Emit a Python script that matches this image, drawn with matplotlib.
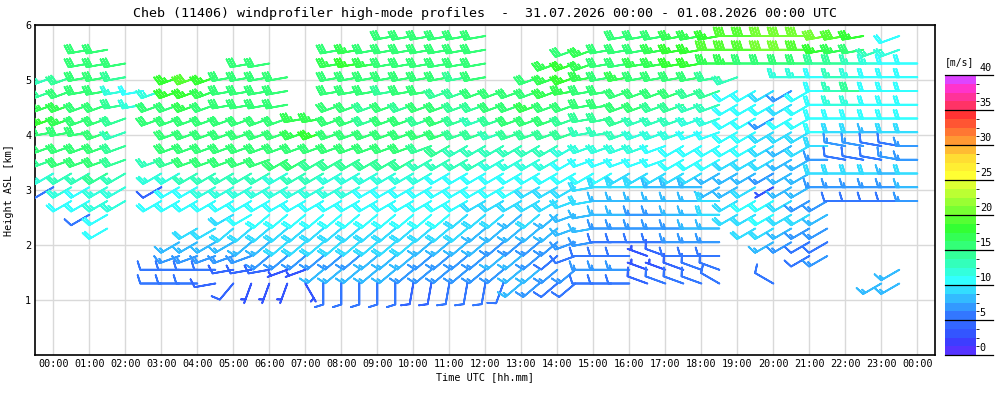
import numpy as np
import matplotlib
matplotlib.use("Agg")
import matplotlib.pyplot as plt
from matplotlib.colors import ListedColormap, BoundaryNorm
from matplotlib.cm import ScalarMappable

_ = np.nan

# profile times (hours UTC, every 30 min) and range gate heights (km)
times = np.arange(0, 24.5, 0.5)
heights = [5.8, 5.55, 5.3, 5.05, 4.8, 4.55, 4.3, 4.05, 3.8, 3.55,
           3.3, 3.05, 2.8, 2.55, 2.3, 2.05, 1.8, 1.55, 1.3]

# wind speed [m/s], one row per height, one column per time
speed = [
    [_,_,_,_,_,_,_,_,_,_, _,_,_,_,_,_,_,_,_,15, 16,16,15,15,15,_,_,_,_,_, _,_,15,16,16,17,17,18,19,19, 20,20,21,20,19,18,_,11,_],
    [_,_,16,16,_,_,_,_,_,_, _,_,_,_,_,_,16,17,16,16, 15,16,16,15,15,_,_,_,_,16, 17,16,16,16,17,18,18,19,19,19, 20,20,19,18,17,16,13,12,_],
    [_,_,15,16,15,_,_,_,_,_, _,16,15,_,_,_,17,18,17,16, 16,15,16,16,15,_,_,_,17,18, 17,16,16,17,17,18,18,17,17,16, 16,15,15,14,14,13,12,11,10],
    [13,14,15,15,14,_,_,18,19,18, 15,16,15,15,_,_,16,16,15,15, 16,15,15,14,15,_,_,16,17,18, 17,16,17,16,16,15,15,14,13,_, _,12,12,11,13,12,11,10,10],
    [14,15,15,15,12,11,12,18,18,17, 15,15,16,15,_,_,15,15,15,14, 15,15,14,14,15,15,15,16,17,17, 16,16,16,16,15,15,14,14,11,10, 9,7,11,11,13,14,11,10,10],
    [17,17,16,16,14,12,16,16,17,16, 15,16,16,15,_,_,15,15,14,15, 14,15,15,14,14,15,16,17,16,15, 15,16,15,15,14,14,13,13,11,10, 10,9,10,11,12,12,11,10,10],
    [18,17,15,15,14,_,15,16,16,15, 16,15,15,16,17,17,15,15,14,15, 15,14,15,14,13,14,15,15,15,14, 14,14,14,13,13,13,12,12,10,10, 7,10,10,10,10,11,10,10,10],
    [16,16,16,15,13,_,_,15,16,16, 16,16,16,16,17,18,16,16,15,15, 15,15,15,14,14,13,14,14,14,14, 13,13,13,12,12,12,11,11,10,10, 9,9,9,10,9,9,8,9,9],
    [15,16,16,15,14,_,_,15,15,15, 16,16,16,16,16,15,15,15,15,15, 15,14,14,13,13,13,13,13,13,12, 12,12,12,12,11,11,11,10,10,10, 9,8,9,9,7,7,6,6,7],
    [14,15,15,15,14,_,13,14,15,15, 15,15,15,15,15,14,14,14,14,14, 14,13,13,13,13,12,12,12,12,11, 11,11,11,11,11,10,10,10,9,9, 9,8,8,7,6,6,6,7,7],
    [12,13,13,14,13,_,12,12,13,13, 13,13,13,12,13,13,12,12,12,12, 12,12,11,11,11,10,10,10,11,10, 10,10,9,9,9,9,9,8,8,8, 7,8,8,9,9,9,9,8,9],
    [5,12,11,12,12,_,4,11,11,12, 12,12,12,12,12,12,12,12,11,11, 11,11,11,10,10,10,10,9,9,9, 9,9,9,9,8,8,8,8,8,9, 3,8,8,7,7,7,7,7,8],
    [_,10,10,12,12,_,10,10,10,11, 11,11,11,11,11,11,11,11,11,10, 10,10,10,10,9,9,9,9,9,9, 9,8,8,8,8,8,8,9,9,10, 10,9,7,7,6,6,6,6,7],
    [_,_,6,10,_,_,_,_,_,_, 9,10,10,10,10,10,10,10,10,10, 10,10,10,9,9,9,8,9,8,8, 8,8,8,7,7,8,8,9,9,9, 10,9,9,8,_,_,_,_,_],
    [_,_,_,11,_,_,_,_,9,9, 9,9,9,9,9,9,9,9,9,9, 9,9,9,9,8,8,8,8,8,8, 8,7,7,7,7,7,8,8,_,9, 9,8,7,7,_,_,_,_,_],
    [_,_,_,_,_,_,_,8,8,8, 8,8,8,9,9,9,9,9,9,9, 9,8,8,8,8,7,7,7,7,7, 7,6,6,6,6,7,7,7,_,_, 8,7,6,6,_,_,_,_,_],
    [_,_,_,_,_,_,_,7,7,7, 7,7,7,7,7,7,7,7,8,8, 8,7,7,7,7,8,8,7,6,6, 6,5,5,3,4,6,6,6,_,_, _,_,6,7,_,_,_,_,_],
    [_,_,_,_,_,_,6,6,6,5, 4,4,4,3,3,8,8,8,8,8, 7,7,7,7,7,7,8,8,7,7, 7,7,7,3,3,4,5,5,_,_, _,_,_,_,_,_,_,8,_],
    [_,_,_,_,_,_,5,5,5,4, 4,3,3,3,3,5,5,5,5,5, 4,4,5,5,5,6,8,7,6,6, 6,6,6,4,5,5,6,5,_,_, 6,_,_,_,_,_,8,8,_],
]

# wind direction [tens of degrees, direction the wind blows from]
direction = [
    [26,26,26,26,26,26,26,26,26,26, 26,26,26,26,26,26,26,26,26,26, 26,26,26,26,26,26,26,26,26,26, 26,26,26,26,26,26,26,26,27,27, 27,27,27,26,26,26,26,25,26],
    [26,26,26,26,26,26,26,26,26,26, 26,26,26,26,26,26,26,26,26,26, 26,26,26,26,26,26,26,26,26,25, 25,26,26,26,26,26,26,27,27,27, 27,27,27,26,26,26,25,25,26],
    [25,25,26,26,26,26,26,26,26,26, 26,26,26,26,26,26,26,26,26,26, 26,26,26,26,26,26,26,26,25,25, 25,26,26,26,26,26,26,27,27,27, 27,27,27,27,27,27,27,27,27],
    [25,25,26,26,26,26,26,25,25,25, 26,26,26,26,26,26,26,26,26,26, 26,26,26,26,26,26,26,25,25,25, 26,26,26,26,26,26,26,26,25,25, 26,27,27,27,27,27,27,27,27],
    [25,25,26,26,26,26,25,25,25,25, 26,26,26,26,26,26,26,26,26,26, 26,26,25,25,25,25,25,25,25,26, 26,26,25,25,25,25,25,25,24,24, 24,24,24,27,27,27,27,27,27],
    [25,25,25,25,26,26,25,25,25,25, 26,26,26,26,26,26,25,25,25,25, 25,25,25,25,25,25,25,25,25,25, 26,26,25,25,25,25,25,25,24,24, 24,24,24,27,27,27,27,27,27],
    [25,25,25,25,25,25,25,25,25,25, 25,25,25,25,26,26,25,25,25,25, 25,25,25,25,25,25,25,25,25,25, 26,26,25,25,25,25,25,25,24,24, 24,24,24,27,27,27,27,27,27],
    [26,26,26,25,25,25,25,25,25,25, 25,25,25,25,25,25,25,25,25,25, 25,25,25,25,25,25,25,25,25,25, 26,26,25,25,25,25,25,25,24,24, 24,24,24,27,27,27,27,27,27],
    [25,25,25,25,25,25,25,25,25,25, 25,25,25,25,25,25,25,25,25,25, 25,25,24,24,24,24,24,24,24,24, 25,25,25,25,25,24,24,24,24,24, 24,24,24,27,28,28,28,28,27],
    [25,25,25,25,25,25,25,25,25,25, 25,25,25,24,24,24,24,24,24,24, 24,24,24,24,24,24,24,24,24,24, 25,25,25,25,25,24,24,24,24,24, 24,24,24,27,28,28,28,28,27],
    [24,24,24,24,24,24,24,24,24,24, 24,24,24,24,24,24,24,24,24,24, 24,24,24,24,24,24,24,24,24,24, 24,24,24,24,24,24,24,24,24,24, 24,24,24,27,27,27,27,27,27],
    [24,24,24,24,24,24,24,24,24,24, 24,24,24,24,24,24,24,24,24,24, 24,24,24,24,24,24,24,24,24,24, 26,27,27,27,27,27,27,24,24,24, 24,24,24,27,27,27,27,27,27],
    [24,24,24,24,24,24,24,24,24,24, 24,24,24,24,24,24,24,24,24,24, 24,24,24,24,24,24,24,24,24,25, 26,27,27,27,27,27,27,27,24,24, 24,24,24,24,27,27,27,27,27],
    [24,24,24,24,24,24,24,24,24,24, 24,24,23,23,23,23,23,23,23,23, 23,23,23,23,23,23,23,23,23,25, 26,27,27,27,27,27,27,27,24,24, 24,24,24,24,24,24,24,24,24],
    [24,24,24,24,24,24,24,24,24,24, 23,23,23,23,23,23,23,23,23,23, 23,23,23,23,23,23,23,23,23,25, 26,27,27,27,27,27,27,27,24,24, 24,24,24,24,24,24,24,24,24],
    [24,24,24,24,24,24,24,24,24,24, 24,23,23,23,23,23,23,23,23,23, 23,23,23,23,23,23,23,23,23,25, 26,27,27,27,27,27,27,27,24,24, 24,24,24,24,24,24,24,24,24],
    [25,25,25,25,25,25,25,25,25,25, 25,25,23,23,23,23,23,23,23,23, 23,23,23,23,23,23,23,23,23,25, 27,27,27,29,29,27,27,27,24,24, 24,24,24,24,24,24,24,24,24],
    [27,27,27,27,27,27,27,27,27,27, 26,26,26,25,25,23,23,23,23,23, 23,23,23,23,23,23,23,23,23,23, 27,27,27,29,29,29,29,29,29,29, 24,24,24,24,24,24,24,24,24],
    [27,27,27,27,27,27,27,27,27,26, 22,20,20,20,15,18,18,18,18,18, 19,19,19,19,19,20,23,23,23,23, 27,27,27,29,29,29,29,30,30,30, 30,24,24,24,24,24,24,24,24],
]

tick_hours = list(range(25))
tick_labels = ["%02d:00" % (h % 24) for h in tick_hours]
cbar_levels = [0, 5, 10, 15, 20, 25, 30, 35, 40]

# discrete colour scale, 1.25 m/s per band
band_colors = [
    "#5533ff", "#3d3dff", "#3355ff", "#3366ff", "#3377ff", "#3399ff", "#33bbff", "#33ddff",
    "#33ffff", "#33ffdd", "#33ffbb", "#33ff99", "#33ff77", "#33ff55", "#33ff33", "#55ff33",
    "#77ff33", "#99ff33", "#bbff33", "#ddff33", "#ffff33", "#ffee33", "#ffdd33", "#ffbb33",
    "#ff9933", "#ff7733", "#ff5533", "#ff3333", "#ff3366", "#ff3399", "#ff33cc", "#dd44ff",
]
cmap = ListedColormap(band_colors)
norm = BoundaryNorm(np.linspace(0, 40, len(band_colors) + 1), cmap.N)

plt.rcParams["font.family"] = ["DejaVu Sans Mono"]

fig = plt.figure(figsize=(10, 4), dpi=100)
ax = fig.add_axes([0.0353, 0.1125, 0.9, 0.825])

spd = np.array(speed, dtype=float)
dd = np.radians(np.array(direction, dtype=float) * 10)
T, H = np.meshgrid(times, heights)
ok = ~np.isnan(spd)
u = -spd * np.sin(dd)
v = -spd * np.cos(dd)

ax.barbs(T[ok], H[ok], u[ok], v[ok], spd[ok], cmap=cmap, norm=norm,
         length=5.5, linewidth=1.3, zorder=3,
         barb_increments=dict(half=2.5, full=5, flag=25),
         sizes=dict(emptybarb=0))

ax.set_xlim(-0.5, 24.5)
ax.set_ylim(0, 6)
ax.set_xticks(tick_hours)
ax.set_xticklabels(tick_labels, fontsize=7.3)
ax.set_yticks([1, 2, 3, 4, 5, 6])
ax.set_yticklabels(["1", "2", "3", "4", "5", "6"], fontsize=7.3)
ax.tick_params(length=0, pad=3)
ax.grid(True, color="#d9d9d9", lw=1, zorder=0)
ax.set_axisbelow(True)
for s in ax.spines.values():
    s.set_linewidth(1.2)
ax.set_xlabel("Time UTC [hh.mm]", fontsize=7.3, labelpad=2)
ax.set_ylabel("Height ASL [km]", fontsize=7.3, labelpad=8)
ax.set_title("Cheb (11406) windprofiler high-mode profiles  -  31.07.2026 00:00 - 01.08.2026 00:00 UTC",
             fontsize=9.6, pad=6)

# colour bar
cax = fig.add_axes([0.945, 0.1125, 0.031, 0.7])
sm = ScalarMappable(norm=norm, cmap=cmap)
cb = fig.colorbar(sm, cax=cax, ticks=[])
cb.outline.set_visible(False)
cax.tick_params(length=0)
for lev in cbar_levels:
    fy = lev / 40.0
    cax.plot([0, 1.55], [fy, fy], color="black", lw=0.9, transform=cax.transAxes, clip_on=False)
    cax.text(1.12, fy + 0.006, str(lev), transform=cax.transAxes, fontsize=7.3, ha="left", va="bottom")
cax.text(0.0, 1.03, "[m/s]", transform=cax.transAxes, fontsize=7, ha="left", va="bottom")

fig.savefig("out.png", dpi=100)
